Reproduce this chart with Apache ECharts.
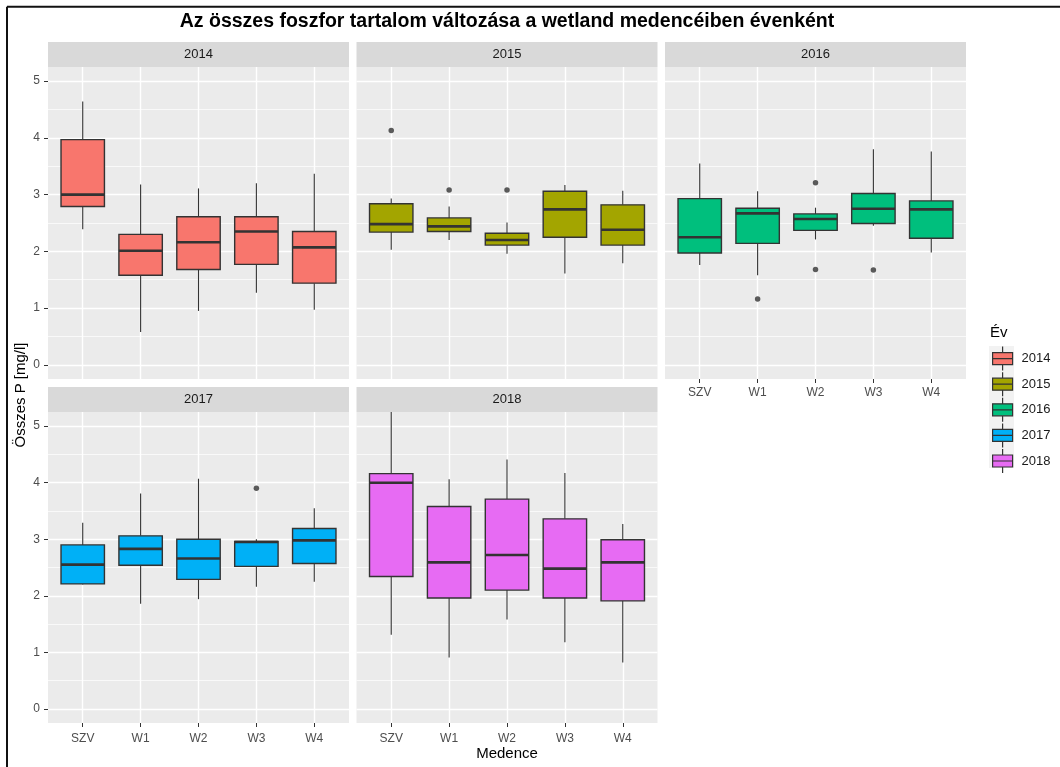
<!DOCTYPE html>
<html>
<head>
<meta charset="utf-8">
<script src="https://cdn.jsdelivr.net/npm/echarts@6/dist/echarts.min.js"></script>
<style>
  html, body { margin: 0; padding: 0; background: #ffffff; }
  #chart { width: 1060px; height: 767px; }
</style>
</head>
<body>
<div id="chart"></div>
<script>
// Basins on the x axis and the sampled years (one facet per year)
const medencek = ['SZV', 'W1', 'W2', 'W3', 'W4'];
const evek = ['2014', '2015', '2016', '2017', '2018'];
const yTicks = [0, 1, 2, 3, 4, 5];

// Box statistics per basin: [lower whisker, Q1, median, Q3, upper whisker] (mg/l)
const doboz2014 = [
  [2.39, 2.79, 3.00, 3.97, 4.64],
  [0.58, 1.58, 2.01, 2.30, 3.18],
  [0.95, 1.68, 2.16, 2.61, 3.11],
  [1.27, 1.77, 2.35, 2.61, 3.20],
  [0.97, 1.44, 2.07, 2.35, 3.37]
];
const doboz2015 = [
  [2.03, 2.34, 2.48, 2.84, 2.93],
  [2.20, 2.35, 2.44, 2.59, 2.79],
  [1.96, 2.11, 2.20, 2.32, 2.51],
  [1.61, 2.25, 2.74, 3.06, 3.17],
  [1.79, 2.11, 2.38, 2.82, 3.07]
];
const doboz2016 = [
  [1.76, 1.97, 2.25, 2.93, 3.55],
  [1.58, 2.14, 2.67, 2.76, 3.06],
  [2.21, 2.37, 2.57, 2.66, 2.77],
  [2.45, 2.49, 2.75, 3.02, 3.80],
  [1.98, 2.23, 2.74, 2.89, 3.76]
];
const doboz2017 = [
  [2.20, 2.21, 2.55, 2.90, 3.29],
  [1.86, 2.54, 2.83, 3.06, 3.81],
  [1.94, 2.29, 2.66, 3.00, 4.07],
  [2.16, 2.52, 2.95, 2.96, 3.00],
  [2.25, 2.57, 2.98, 3.19, 3.55]
];
const doboz2018 = [
  [1.31, 2.34, 4.00, 4.16, 5.25],
  [0.91, 1.96, 2.59, 3.58, 4.06],
  [1.58, 2.10, 2.72, 3.71, 4.41],
  [1.18, 1.96, 2.48, 3.36, 4.17],
  [0.82, 1.91, 2.59, 2.99, 3.27]
];

// Outliers: [basin index, value]
const kiugro2014 = [];
const kiugro2015 = [[0, 4.13], [1, 3.08], [2, 3.08]];
const kiugro2016 = [[1, 1.16], [2, 3.21], [2, 1.68], [3, 1.67]];
const kiugro2017 = [[3, 3.90]];
const kiugro2018 = [];

const dobozok = [doboz2014, doboz2015, doboz2016, doboz2017, doboz2018];
const kiugrok = [kiugro2014, kiugro2015, kiugro2016, kiugro2017, kiugro2018];
const szinek = ['#F8766D', '#A3A500', '#00BF7D', '#00B0F6', '#E76BF3'];

// Facet layout (3 columns, 2 rows)
const PANEL_LEFT = [48, 356.5, 665];
const PANEL_W = 301;
const PANEL_TOP = [67, 412];
const PANEL_H = [312, 311];
const STRIP_H = 25;
const FONT = '"Liberation Sans", Arial, Helvetica, sans-serif';
const INK = '#333333';

function panelRect(i) {
  const col = i % 3, row = Math.floor(i / 3);
  return { left: PANEL_LEFT[col], top: PANEL_TOP[row], width: PANEL_W, height: PANEL_H[row], col, row };
}

// Draws one ggplot-style box (no whisker caps, heavier median line)
function renderBox(params, api) {
  const x = api.value(0);
  const mn = api.coord([x, api.value(1)]);
  const q1 = api.coord([x, api.value(2)]);
  const md = api.coord([x, api.value(3)]);
  const q3 = api.coord([x, api.value(4)]);
  const mx = api.coord([x, api.value(5)]);
  const xl = api.coord([x - 0.375, api.value(3)])[0];
  const xr = api.coord([x + 0.375, api.value(3)])[0];
  const cx = md[0];
  const fill = api.visual('color');
  const whisker = { stroke: INK, lineWidth: 1.1 };
  return {
    type: 'group',
    children: [
      { type: 'line', shape: { x1: cx, y1: mx[1], x2: cx, y2: q3[1] }, style: whisker },
      { type: 'line', shape: { x1: cx, y1: q1[1], x2: cx, y2: mn[1] }, style: whisker },
      { type: 'rect', shape: { x: xl, y: q3[1], width: xr - xl, height: q1[1] - q3[1] },
        style: { fill: fill, stroke: INK, lineWidth: 1.4 } },
      { type: 'line', shape: { x1: xl, y1: md[1], x2: xr, y2: md[1] },
        style: { stroke: INK, lineWidth: 2.6 } }
    ]
  };
}

const grids = [], xAxes = [], yAxes = [], series = [], graphics = [];

evek.forEach(function (ev, i) {
  const p = panelRect(i);
  const showX = (p.row === 1) || (i === 2);
  const showY = (p.col === 0);

  grids.push({
    left: p.left, top: p.top, width: p.width, height: p.height,
    show: true, backgroundColor: '#EBEBEB', borderWidth: 0, containLabel: false
  });

  xAxes.push({
    type: 'value', gridIndex: i, min: -0.6, max: 4.6, position: 'bottom',
    axisLine: { show: false, onZero: false },
    axisTick: { show: showX, length: 4, customValues: [0, 1, 2, 3, 4],
      lineStyle: { color: INK, width: 1 } },
    axisLabel: { show: showX, customValues: [0, 1, 2, 3, 4],
      formatter: function (v) { return medencek[Math.round(v)]; },
      color: '#4D4D4D', fontSize: 12, fontFamily: FONT, margin: p.row === 1 ? 10 : 8 },
    splitLine: { show: true, lineStyle: { color: '#FFFFFF', width: 1.4 } }
  });

  yAxes.push({
    type: 'value', gridIndex: i, min: -0.25, max: 5.25, position: 'left',
    axisLine: { show: false, onZero: false },
    axisTick: { show: showY, length: 4, customValues: yTicks,
      lineStyle: { color: INK, width: 1 } },
    axisLabel: { show: showY, customValues: yTicks,
      color: '#4D4D4D', fontSize: 12, fontFamily: FONT, margin: 8 },
    splitLine: { show: true, lineStyle: { color: '#FFFFFF', width: 1.4 } },
    minorTick: { show: false, splitNumber: 2 },
    minorSplitLine: { show: true, lineStyle: { color: '#FFFFFF', width: 0.7 } }
  });

  series.push({
    type: 'custom', name: ev, xAxisIndex: i, yAxisIndex: i,
    renderItem: renderBox, clip: true,
    itemStyle: { color: szinek[i], borderColor: INK, borderWidth: 1 },
    encode: { x: 0, y: [1, 2, 3, 4, 5] },
    data: dobozok[i].map(function (d, k) { return [k].concat(d); }),
    z: 3
  });

  if (kiugrok[i].length) {
    series.push({
      type: 'scatter', name: ev, xAxisIndex: i, yAxisIndex: i,
      symbol: 'circle', symbolSize: 5.5,
      itemStyle: { color: INK },
      data: kiugrok[i], z: 4
    });
  }

  // Facet strip with the year
  graphics.push({
    type: 'rect', silent: true,
    shape: { x: p.left, y: p.top - STRIP_H, width: p.width, height: STRIP_H },
    style: { fill: '#D9D9D9' }
  });
  graphics.push({
    type: 'text', silent: true,
    x: p.left + p.width / 2, y: p.top - STRIP_H / 2,
    style: { text: ev, font: '13px ' + FONT, fill: '#1A1A1A',
      align: 'center', verticalAlign: 'middle', textAlign: 'center', textVerticalAlign: 'middle' }
  });
});

const plotCenterX = (PANEL_LEFT[0] + PANEL_LEFT[2] + PANEL_W) / 2;

// Main title, axis titles, legend title and key background
graphics.push(
  { type: 'text', silent: true, x: plotCenterX, y: 22,
    style: { text: 'Az összes foszfor tartalom változása a wetland medencéiben évenként',
      font: 'bold 19.5px ' + FONT, fill: '#000000',
      align: 'center', verticalAlign: 'middle', textAlign: 'center', textVerticalAlign: 'middle' } },
  { type: 'text', silent: true, x: plotCenterX, y: 754,
    style: { text: 'Medence', font: '15px ' + FONT, fill: '#000000',
      align: 'center', verticalAlign: 'middle', textAlign: 'center', textVerticalAlign: 'middle' } },
  { type: 'text', silent: true, x: 21, y: (PANEL_TOP[0] + PANEL_TOP[1] + PANEL_H[1]) / 2, rotation: Math.PI / 2,
    style: { text: 'Összes P [mg/l]', font: '15px ' + FONT, fill: '#000000',
      align: 'center', verticalAlign: 'middle', textAlign: 'center', textVerticalAlign: 'middle' } },
  { type: 'text', silent: true, x: 990, y: 333,
    style: { text: 'Év', font: '15px ' + FONT, fill: '#000000',
      align: 'left', verticalAlign: 'middle', textAlign: 'left', textVerticalAlign: 'middle' } },
  { type: 'rect', silent: true, z: -1,
    shape: { x: 989, y: 346, width: 25, height: 122 },
    style: { fill: '#F2F2F2' } },
  // frame lines along the top and left edge
  { type: 'line', silent: true, shape: { x1: 7, y1: 6.7, x2: 1060, y2: 6.7 },
    style: { stroke: '#111111', lineWidth: 2 } },
  { type: 'line', silent: true, shape: { x1: 7, y1: 6.7, x2: 7, y2: 767 },
    style: { stroke: '#111111', lineWidth: 2 } }
);

// Legend key: box with median and whiskers
const keyIcon = 'path://M10,0L10,6M0,6L20,6L20,18L0,18ZM0,12L20,12M10,18L10,24';

const chart = echarts.init(document.getElementById('chart'), null, { renderer: 'canvas' });
chart.setOption({
  animation: false,
  backgroundColor: '#FFFFFF',
  grid: grids,
  xAxis: xAxes,
  yAxis: yAxes,
  legend: {
    data: evek.map(function (e) { return { name: e, icon: keyIcon }; }),
    orient: 'vertical', left: 992, top: 346, padding: 0,
    itemWidth: 20, itemHeight: 24, itemGap: 0.4,
    itemStyle: { borderColor: INK, borderWidth: 1.2 },
    textStyle: { fontSize: 13, fontFamily: FONT, color: '#1A1A1A', padding: [0, 0, 0, 4] },
    selectedMode: true
  },
  graphic: { elements: graphics },
  series: series
});
</script>
</body>
</html>
